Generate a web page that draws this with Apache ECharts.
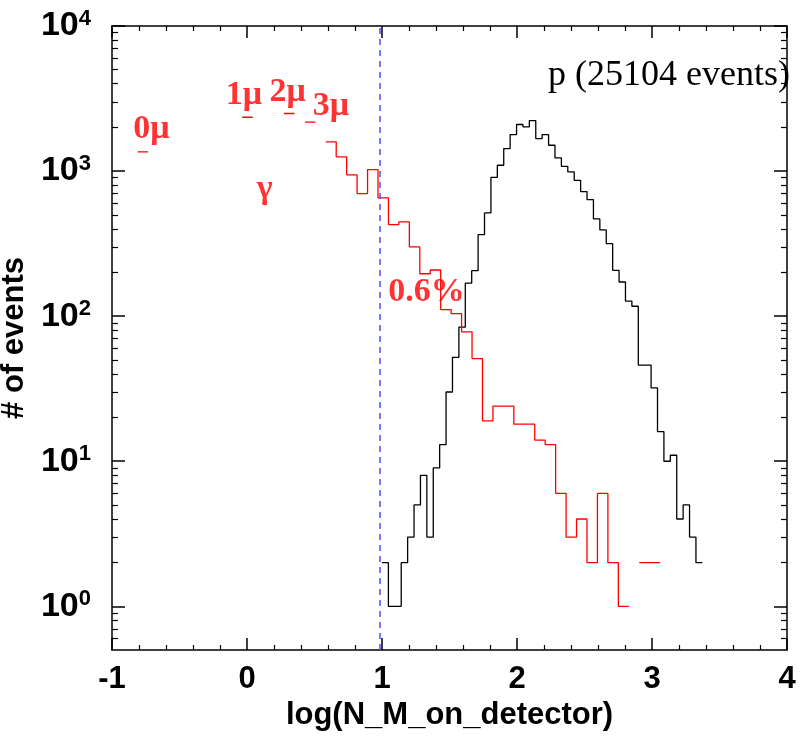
<!DOCTYPE html>
<html>
<head>
<meta charset="utf-8">
<script src="https://cdn.jsdelivr.net/npm/echarts@6/dist/echarts.min.js"></script>
<style>
  html, body { margin: 0; padding: 0; background: #fff; }
  #chart { width: 801px; height: 739px; }
</style>
</head>
<body>
<div id="chart"></div>
<script>
// Proton events: counts per bin of log10(N_M), first bin edge and bin width
const protonStart = 1.0;
const protonWidth = 0.04746;
const protonCounts = [2, 1, 1, 2, 3, 5, 8, 3, 9, 13, 30, 52, 84, 169, 206, 365, 515, 906, 1097, 1429,
  1786, 2094, 2018, 2230, 1676, 1786, 1507, 1233, 1079, 986, 864, 722, 636, 468, 393, 316, 207, 172,
  127, 117, 46, 46, 32, 16, 10, 11, 4, 5, 3, 2];

// Gamma events: counts per bin (zero bins are left undrawn on the log scale)
const gammaStart = -0.8098;
const gammaWidth = 0.0774;
const gammaCounts = [1356, 0, 0, 0, 0, 0, 0, 0, 0, 0, 2350, 0, 0, 0, 2494, 0, 2172, 0,
  1590, 1253, 942, 700, 1024, 653, 428, 447, 300, 196, 208, 111, 104, 78, 51, 19, 24, 24, 18, 18,
  14, 13, 6, 3, 4, 2, 6, 2, 1, 0, 2, 2];

// Cut position on the x axis
const cutValue = 0.98;

// In-plot annotations (text, x, y in data units)
const noteText = ['0μ', '1μ', '2μ', '3μ', 'γ', '0.6%'];
const noteX = [-0.708, -0.023, 0.301, 0.622, 0.131, 1.329];
const noteY = [1942, 3318, 3477, 2798, 745, 146];

const sampleLabel = 'p (25104 events)';

// Axis ticks
const xTicks = [-1, 0, 1, 2, 3, 4];
const yDecades = [1, 10, 100, 1000, 10000];
const yMinorTicks = [0.6, 0.7, 0.8, 0.9];
[1, 10, 100, 1000].forEach(d => { for (let m = 2; m <= 9; m++) yMinorTicks.push(m * d); });

// Build a step outline: a flat top for each non-empty bin, a break for empty ones
function stepPoints(start, width, counts) {
  const pts = [];
  counts.forEach((c, i) => {
    const l = start + i * width;
    const r = l + width;
    if (c > 0) {
      pts.push([l, c], [r, c]);
    } else {
      pts.push([l + width / 2, '-']);
    }
  });
  return pts;
}

const chart = echarts.init(document.getElementById('chart'), null, { renderer: 'canvas' });

const sansBold = { fontFamily: 'Liberation Sans', fontWeight: 'bold', color: '#000' };
const axisLineStyle = { color: '#000', width: 1.5 };

function logAxis(position, major, showLabels) {
  const ax = {
    type: 'log',
    logBase: 10,
    min: 0.5,
    max: 10000,
    position: position,
    axisLine: { show: major, onZero: false, lineStyle: axisLineStyle },
    axisTick: {
      show: true,
      inside: true,
      length: major ? 13 : 6,
      customValues: major ? yDecades : yMinorTicks,
      lineStyle: { color: '#000', width: major ? 1.5 : 1.2 }
    },
    axisLabel: { show: false },
    splitLine: { show: false },
    minorTick: { show: false },
    minorSplitLine: { show: false }
  };
  if (showLabels) {
    ax.axisLabel = {
      show: true,
      customValues: yDecades,
      margin: 21,
      formatter: v => '{b|10}{s|' + Math.round(Math.log10(v)) + '}',
      rich: {
        b: { fontFamily: 'Liberation Sans', fontWeight: 'bold', fontSize: 34, color: '#000', lineHeight: 36 },
        s: { fontFamily: 'Liberation Sans', fontWeight: 'bold', fontSize: 22, color: '#000', verticalAlign: 'top', lineHeight: 22 }
      }
    };
    ax.name = '# of events';
    ax.nameLocation = 'middle';
    ax.nameGap = 62;
    ax.nameTextStyle = Object.assign({ fontSize: 31 }, sansBold);
  }
  return ax;
}

function linAxis(position, showLabels) {
  const ax = {
    type: 'value',
    min: -1,
    max: 4,
    interval: 1,
    position: position,
    axisLine: { show: true, onZero: false, lineStyle: axisLineStyle },
    axisTick: { show: true, inside: true, length: 12, lineStyle: { color: '#000', width: 1.5 } },
    minorTick: { show: true, splitNumber: 5, length: 5, lineStyle: { color: '#000', width: 1.2 } },
    axisLabel: { show: false },
    splitLine: { show: false },
    minorSplitLine: { show: false }
  };
  if (showLabels) {
    ax.axisLabel = Object.assign({ show: true, fontSize: 31, margin: 14, customValues: xTicks }, sansBold);
    ax.name = 'log(N_M_on_detector)';
    ax.nameLocation = 'middle';
    ax.nameGap = 46;
    ax.nameTextStyle = Object.assign({ fontSize: 31 }, sansBold);
  }
  return ax;
}

const option = {
  backgroundColor: '#fff',
  animation: false,
  grid: {
    left: 112, right: 14, top: 26, bottom: 89,
    containLabel: false,
    outerBoundsMode: 'none'
  },
  xAxis: [linAxis('bottom', true), linAxis('top', false)],
  yAxis: [
    logAxis('left', true, true),
    logAxis('left', false, false),
    logAxis('right', true, false),
    logAxis('right', false, false)
  ],
  graphic: [{
    type: 'text',
    x: 790,
    y: 76,
    z: 10,
    style: {
      text: sampleLabel,
      align: 'right',
      verticalAlign: 'middle',
      font: 'normal 36px "Liberation Serif"',
      fill: '#000'
    }
  }],
  series: [
    {
      name: 'gamma',
      type: 'line',
      xAxisIndex: 0,
      yAxisIndex: 0,
      data: stepPoints(gammaStart, gammaWidth, gammaCounts),
      showSymbol: false,
      symbol: 'none',
      connectNulls: false,
      lineStyle: { color: '#ff0000', width: 1.3 },
      z: 3
    },
    {
      name: 'proton',
      type: 'line',
      xAxisIndex: 0,
      yAxisIndex: 0,
      data: stepPoints(protonStart, protonWidth, protonCounts),
      showSymbol: false,
      symbol: 'none',
      connectNulls: false,
      lineStyle: { color: '#000', width: 1.3 },
      z: 2,
      markLine: {
        silent: true,
        symbol: 'none',
        label: { show: false },
        lineStyle: { color: '#4d4dff', type: [6, 5], width: 1.5 },
        data: [{ xAxis: cutValue }]
      }
    },
    {
      name: 'notes',
      type: 'scatter',
      xAxisIndex: 0,
      yAxisIndex: 0,
      symbolSize: 0,
      silent: true,
      data: noteText.map((t, i) => [noteX[i], noteY[i], t]),
      label: {
        show: true,
        position: 'inside',
        formatter: p => p.data[2],
        fontFamily: 'Liberation Serif',
        fontWeight: 'bold',
        fontSize: 34,
        color: '#ff0000'
      },
      z: 5
    }
  ]
};

chart.setOption(option);
</script>
</body>
</html>
